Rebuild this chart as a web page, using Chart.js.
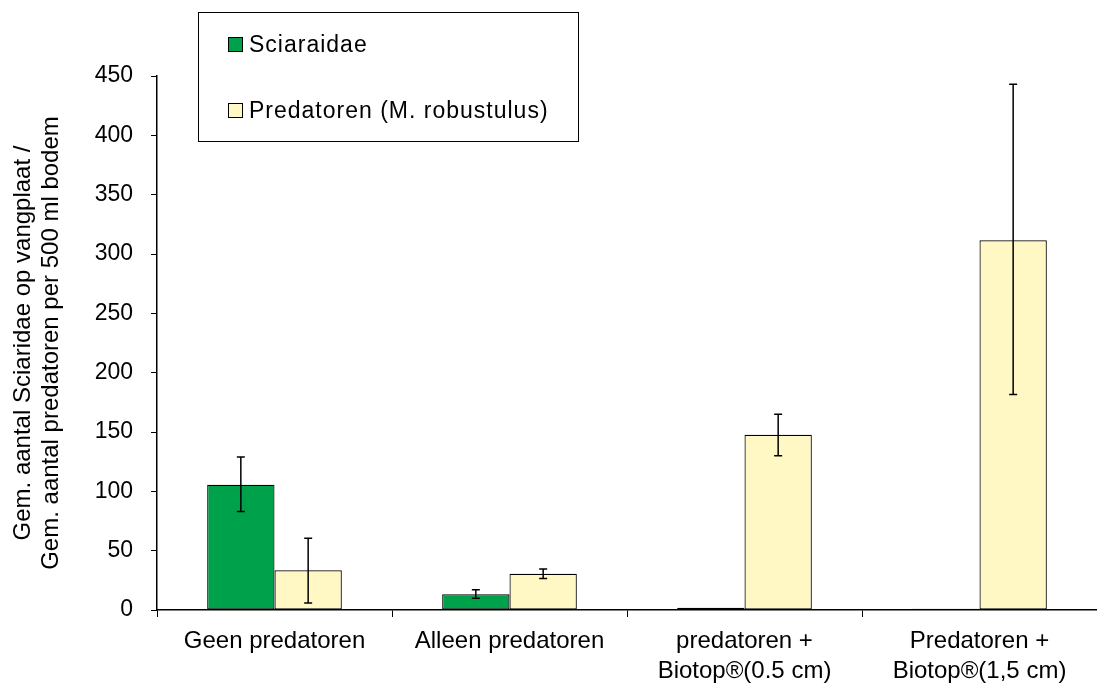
<!DOCTYPE html>
<html>
<head>
<meta charset="utf-8">
<script src="https://cdn.jsdelivr.net/npm/chart.js@4"></script>
<style>
  html, body { margin: 0; padding: 0; background: #fff; }
  #wrap { width: 1097px; height: 684px; }
</style>
</head>
<body>
<div id="wrap"><canvas id="chart" width="1097" height="684"></canvas></div>
<script>
const categories = [
  'Geen predatoren',
  'Alleen predatoren',
  ['predatoren +', 'Biotop®(0.5 cm)'],
  ['Predatoren +', 'Biotop®(1,5 cm)']
];
const sciaridae = [105.5, 13.2, 2, 1];
const sciaridaeLow = [83, 10, 2, 1];
const sciaridaeHigh = [129, 17, 2, 1];
const predatoren = [33.5, 30.5, 147.6, 311.5];
const predatorenLow = [6, 26.5, 130, 181.5];
const predatorenHigh = [60.5, 34.6, 165, 443];
const yTicks = [0, 50, 100, 150, 200, 250, 300, 350, 400, 450];

const font = 'Liberation Sans, Arial, sans-serif';

// error bars drawn through the scales
const errorBars = {
  id: 'errorBars',
  afterDatasetsDraw(chart) {
    const ctx = chart.ctx;
    const y = chart.scales.y;
    const ranges = [[sciaridaeLow, sciaridaeHigh], [predatorenLow, predatorenHigh]];
    ctx.save();
    ctx.strokeStyle = '#000';
    ctx.lineWidth = 1.5;
    ranges.forEach((r, di) => {
      const meta = chart.getDatasetMeta(di);
      meta.data.forEach((bar, i) => {
        if (r[0][i] === r[1][i]) return;
        const x = bar.x;
        const y1 = y.getPixelForValue(r[0][i]);
        const y2 = y.getPixelForValue(r[1][i]);
        ctx.beginPath();
        ctx.moveTo(x, y1); ctx.lineTo(x, y2);
        ctx.moveTo(x - 4, y1); ctx.lineTo(x + 4, y1);
        ctx.moveTo(x - 4, y2); ctx.lineTo(x + 4, y2);
        ctx.stroke();
      });
    });
    ctx.restore();
  }
};

// legend box in the top left corner
const legendBox = {
  id: 'legendBox',
  afterDraw(chart) {
    const ctx = chart.ctx;
    ctx.save();
    ctx.strokeStyle = '#000';
    ctx.lineWidth = 1;
    ctx.strokeRect(198.5, 12.5, 380, 129);
    ctx.font = '23px ' + font;
    ctx.letterSpacing = '1px';
    ctx.textBaseline = 'middle';
    chart.data.datasets.forEach((ds, i) => {
      const cy = 45 + i * 66;
      ctx.fillStyle = ds.backgroundColor;
      ctx.fillRect(228.5, cy - 7.5, 14, 14);
      ctx.strokeRect(228.5, cy - 7.5, 14, 14);
      ctx.fillStyle = '#000';
      ctx.fillText(ds.label, 249, cy + 1);
    });
    ctx.restore();
  }
};

new Chart(document.getElementById('chart'), {
  type: 'bar',
  data: {
    labels: categories,
    datasets: [
      {
        label: 'Sciaraidae',
        data: sciaridae,
        backgroundColor: '#00a14b',
        borderColor: '#000',
        borderWidth: 1.2,
        borderSkipped: false
      },
      {
        label: 'Predatoren (M. robustulus)',
        data: predatoren,
        backgroundColor: '#fff8c4',
        borderColor: '#000',
        borderWidth: 1.2,
        borderSkipped: false
      }
    ]
  },
  options: {
    responsive: false,
    animation: false,
    layout: { padding: { top: 76, right: 0, left: 0, bottom: 0 } },
    datasets: { bar: { barPercentage: 1, categoryPercentage: 0.573 } },
    plugins: {
      legend: { display: false },
      tooltip: { enabled: false }
    },
    scales: {
      x: {
        offset: true,
        grid: { offset: true, drawOnChartArea: false, drawTicks: true, tickLength: 7, color: '#000' },
        border: { color: '#000', width: 1.5 },
        ticks: { color: '#000', font: { family: font, size: 24, lineHeight: 1.25 }, padding: 9, maxRotation: 0 },
        afterFit(s) { s.height = 74; }
      },
      y: {
        min: 0,
        max: 450,
        afterBuildTicks(s) { s.ticks = yTicks.map(v => ({ value: v })); },
        grid: { drawOnChartArea: false, drawTicks: true, tickLength: 6, color: '#000' },
        border: { color: '#000', width: 1.5 },
        ticks: { color: '#000', font: { family: font, size: 23 }, padding: 18 },
        title: {
          display: true,
          text: ['Gem. aantal Sciaridae op vangplaat /', 'Gem. aantal predatoren per 500 ml bodem'],
          color: '#000',
          font: { family: font, size: 24, lineHeight: 1.15 },
          padding: { top: 10, bottom: 0 }
        },
        afterFit(s) { s.width = 157; }
      }
    }
  },
  plugins: [errorBars, legendBox]
});
</script>
</body>
</html>
